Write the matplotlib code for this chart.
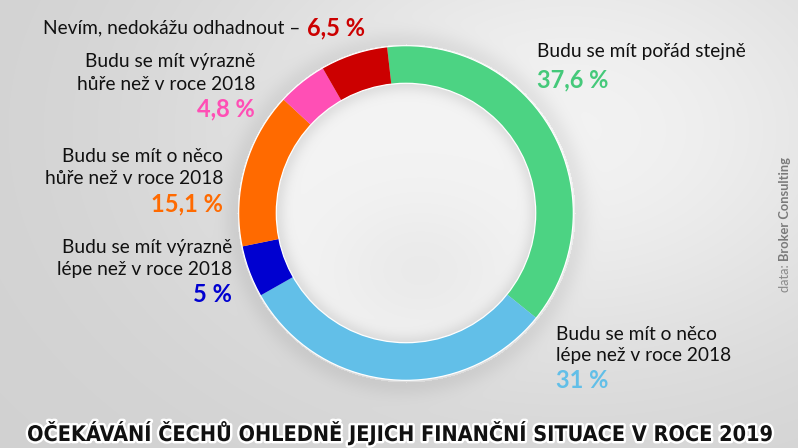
import numpy as np
import matplotlib
matplotlib.use("Agg")
import matplotlib.pyplot as plt
import matplotlib.patheffects as pe

# ---- data ----
labels = ["Budu se mít pořád stejně",
          "Budu se mít o něco\nlépe než v roce 2018",
          "Budu se mít výrazně\nlépe než v roce 2018",
          "Budu se mít o něco\nhůře než v roce 2018",
          "Budu se mít výrazně\nhůře než v roce 2018",
          "Nevím, nedokážu odhadnout –"]
values = [37.6, 31.0, 5.0, 15.1, 4.8, 6.5]
pct_labels = ["37,6 %", "31 %", "5 %", "15,1 %", "4,8 %", "6,5 %"]
colors = ["#4CD383", "#62BFE8", "#0000D0", "#FF6A00", "#FF4FB5", "#CC0000"]
title = "OČEKÁVÁNÍ ČECHŮ OHLEDNĚ JEJICH FINANČNÍ SITUACE V ROCE 2019"
source_a = "data: "
source_b = "Broker Consulting"

W, H = 798, 448
fig = plt.figure(figsize=(W / 100, H / 100), dpi=100)

# ---- background ----
bg_ax = fig.add_axes([0, 0, 1, 1])
yy, xx = np.mgrid[0:H, 0:W].astype(float)
cx, cy, R, Rin = 406.0, 213.0, 169.0, 131.0
base = 0.82 + 0.13 * np.exp(-(((xx - 570) / 360) ** 2 + ((yy - 130) / 250) ** 2))
r = np.hypot(xx - cx, yy - cy)
out_sh = np.where(r > R, np.exp(-((r - R) / 14.0) ** 2) * 0.06, 0)
base = base - out_sh
inner = 0.955 - 0.035 * np.exp(-(((xx - 420) / 90) ** 2 + ((yy - 270) / 70) ** 2))
inner = inner - 0.08 * np.exp(-((Rin - r) / 10.0) ** 2)
base = np.where(r < Rin, inner, base)
base = np.clip(base, 0, 1)
bg_ax.imshow(np.dstack([base] * 3), extent=[0, W, H, 0], aspect="auto", zorder=0)
bg_ax.set_xlim(0, W)
bg_ax.set_ylim(H, 0)
bg_ax.axis("off")

# ---- donut ----
pax = fig.add_axes([(cx - R) / W, (H - cy - R) / H, 2 * R / W, 2 * R / H])
pax.pie(values, colors=colors, startangle=96.5, counterclock=False,
        radius=1.0, wedgeprops=dict(width=(R - Rin) / R, linewidth=0))
for rad in (1.0, Rin / R):
    pax.add_patch(plt.Circle((0, 0), rad, fill=False, ec="white", lw=0.9))
pax.set_xlim(-1.01, 1.01)
pax.set_ylim(-1.01, 1.01)
pax.axis("off")

# ---- labels ----
fam = ["Lato", "DejaVu Sans"]
tfs = 13.8
pfs = 17

t0 = bg_ax.text(43, 28, labels[5], fontsize=tfs, family=fam, color="#111111",
                ha="left", va="center")
bg_ax.annotate(pct_labels[5], xy=(1, 0.5), xycoords=t0, xytext=(5, 0),
               textcoords="offset points", fontsize=pfs, family=fam,
               fontweight="bold", color=colors[5], ha="left", va="center")

blocks = [
    (4, 255, 62, "right"),
    (3, 223, 157, "right"),
    (2, 232, 247, "right"),
    (0, 537, 52, "left"),
    (1, 556, 334, "left"),
]
for idx, x, y1, ha in blocks:
    lines = labels[idx].split("\n")
    for k, ln in enumerate(lines):
        bg_ax.text(x, y1 + 22 * k, ln, fontsize=tfs, family=fam, color="#111111",
                   ha=ha, va="center")
    ypct = y1 + 22 * (len(lines) - 1) + 25
    if len(lines) == 1:
        ypct = y1 + 28
    bg_ax.text(x, ypct, pct_labels[idx], fontsize=pfs, family=fam,
               fontweight="bold", color=colors[idx] if idx != 0 else "#45C97A",
               ha=ha, va="center")

# ---- source ----
s1 = bg_ax.text(785, 292, source_a, fontsize=9.3, family=fam, color="#8a8a8a",
                rotation=90, ha="center", va="bottom")
bg_ax.annotate(source_b, xy=(0.5, 1), xycoords=s1, fontsize=9.3, family=fam,
               fontweight="bold", color="#7a7a7a", rotation=90,
               ha="center", va="bottom")

# ---- title ----
bg_ax.text(399, 433, title, fontsize=15.5, family=["DejaVu Sans"],
           fontstretch="condensed", fontweight="bold", color="#111111",
           ha="center", va="center",
           path_effects=[pe.withStroke(linewidth=3.5, foreground="white")])

fig.savefig("out.png", dpi=100)
